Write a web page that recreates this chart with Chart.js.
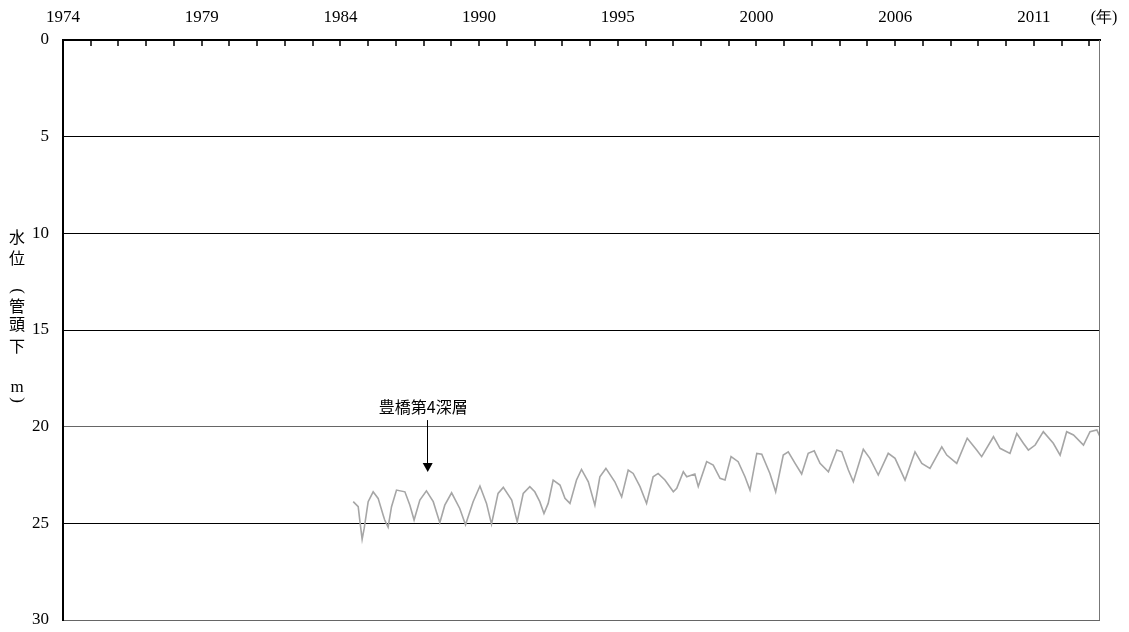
<!DOCTYPE html>
<html>
<head>
<meta charset="utf-8">
<script src="https://cdn.jsdelivr.net/npm/chart.js@4"></script>
<style>
  html, body { margin: 0; padding: 0; background: #fff; }
  #wrap { width: 1129px; height: 632px; }
</style>
</head>
<body>
<div id="wrap"><canvas id="chart" width="1129" height="632"></canvas></div>
<script>
// decimal years
const years = [
  1985.06, 1985.25, 1985.31, 1985.40, 1985.48, 1985.63, 1985.82, 1986.01, 1986.20, 1986.26,
  1986.39, 1986.52, 1986.71, 1987.03, 1987.22, 1987.38, 1987.60, 1987.85, 1988.11, 1988.36,
  1988.55, 1988.81, 1989.12, 1989.34, 1989.63, 1989.89, 1990.14, 1990.33, 1990.58, 1990.78,
  1991.10, 1991.31, 1991.54, 1991.79, 1991.98, 1992.17, 1992.33, 1992.49, 1992.68, 1992.94,
  1993.13, 1993.32, 1993.57, 1993.76, 1994.02, 1994.27, 1994.46, 1994.69, 1995.03, 1995.29,
  1995.54, 1995.73, 1995.99, 1996.24, 1996.49, 1996.68, 1996.94, 1997.26, 1997.39, 1997.64,
  1997.77, 1998.08, 1998.21, 1998.53, 1998.78, 1999.04, 1999.23, 1999.46, 1999.73, 1999.99,
  2000.18, 2000.44, 2000.63, 2000.94, 2001.16, 2001.45, 2001.64, 2001.90, 2002.15, 2002.40,
  2002.63, 2002.85, 2003.17, 2003.49, 2003.68, 2003.93, 2004.12, 2004.50, 2004.75, 2005.07,
  2005.45, 2005.71, 2006.09, 2006.47, 2006.73, 2007.04, 2007.49, 2007.68, 2008.06, 2008.46,
  2008.82, 2009.01, 2009.46, 2009.71, 2010.09, 2010.35, 2010.60, 2010.79, 2011.05, 2011.36,
  2011.74, 2012.00, 2012.25, 2012.51, 2012.89, 2013.14, 2013.40, 2013.52
];
// water level below pipe head (m)
const levels = [
  23.88, 24.14, 24.83, 25.83, 25.25, 23.88, 23.37, 23.71, 24.57, 24.83,
  25.20, 24.14, 23.28, 23.37, 24.06, 24.83, 23.80, 23.32, 23.88, 24.97,
  24.06, 23.42, 24.23, 25.07, 23.88, 23.07, 23.97, 25.04, 23.45, 23.14,
  23.80, 24.92, 23.45, 23.10, 23.37, 23.88, 24.49, 23.97, 22.76, 23.02,
  23.71, 23.97, 22.76, 22.21, 22.85, 24.06, 22.59, 22.16, 22.85, 23.63,
  22.24, 22.42, 23.10, 23.97, 22.59, 22.42, 22.76, 23.37, 23.19, 22.33,
  22.59, 22.45, 23.10, 21.81, 21.99, 22.67, 22.76, 21.55, 21.81, 22.59,
  23.28, 21.38, 21.42, 22.42, 23.37, 21.47, 21.30, 21.90, 22.45, 21.38,
  21.25, 21.90, 22.33, 21.21, 21.30, 22.24, 22.85, 21.17, 21.64, 22.50,
  21.38, 21.64, 22.76, 21.30, 21.90, 22.16, 21.04, 21.47, 21.90, 20.60,
  21.21, 21.55, 20.52, 21.12, 21.38, 20.35, 20.86, 21.21, 20.95, 20.26,
  20.86, 21.47, 20.26, 20.43, 20.95, 20.26, 20.17, 20.52
];
const tickLabels = ['1974', '1979', '1984', '1990', '1995', '2000', '2006', '2011'];
const xStart = 1974;
const labelStep = 37 / 7;      // years between labelled ticks
const minorPerLabel = 5;       // small tick marks per label step
const xEnd = 2013.52;
const yTicks = [0, 5, 10, 15, 20, 25, 30];
const seriesName = '豊橋第4深層';
const noteYear = 1987.88;
const yTitleChars = ['水', '位', '(', '管', '頭', '下', 'm', ')'];
const yTitleRows = [237, 258, 291, 306, 324, 346, 388, 400];

const numFont = { family: '"Liberation Serif", "DejaVu Serif", serif', size: 17 };
const cjkFont = '"Noto Sans CJK JP", "Noto Sans CJK SC", sans-serif';

const extras = {
  id: 'extras',
  afterDraw(chart) {
    const { ctx, chartArea: area, scales: { x, y } } = chart;
    ctx.save();
    // right frame
    ctx.strokeStyle = '#777';
    ctx.lineWidth = 1;
    ctx.beginPath();
    ctx.moveTo(area.right - 0.5, area.top);
    ctx.lineTo(area.right - 0.5, area.bottom);
    ctx.stroke();
    // small inward tick marks on the top axis
    ctx.strokeStyle = '#000';
    ctx.lineWidth = 1.5;
    const minor = labelStep / minorPerLabel;
    for (let v = xStart + minor; v <= xEnd; v += minor) {
      const px = Math.round(x.getPixelForValue(v));
      ctx.beginPath();
      ctx.moveTo(px, area.top);
      ctx.lineTo(px, area.top + 6);
      ctx.stroke();
    }
    // series note with arrow
    const ax = x.getPixelForValue(noteYear);
    ctx.fillStyle = '#000';
    ctx.font = '16px ' + cjkFont;
    ctx.textAlign = 'center';
    ctx.textBaseline = 'middle';
    ctx.fillText(seriesName, ax - 4, y.getPixelForValue(18.97));
    const top = y.getPixelForValue(19.66);
    const tip = y.getPixelForValue(22.35);
    ctx.lineWidth = 1;
    ctx.beginPath();
    ctx.moveTo(Math.round(ax) + 0.5, top);
    ctx.lineTo(Math.round(ax) + 0.5, tip - 8);
    ctx.stroke();
    ctx.beginPath();
    ctx.moveTo(ax - 4.5, tip - 9);
    ctx.lineTo(ax + 5.5, tip - 9);
    ctx.lineTo(ax + 0.5, tip);
    ctx.closePath();
    ctx.fill();
    // year unit
    ctx.font = '16px ' + numFont.family;
    ctx.fillText('(年)', 1104, 18);
    // vertical axis title, brackets turned for vertical writing
    yTitleChars.forEach((c, i) => {
      ctx.save();
      ctx.translate(17, yTitleRows[i]);
      if (c === '(' || c === ')') {
        ctx.rotate(Math.PI / 2);
        ctx.font = '17px ' + numFont.family;
      } else if (c === 'm') {
        ctx.font = '17px ' + numFont.family;
      } else {
        ctx.font = '16px ' + cjkFont;
      }
      ctx.fillText(c, 0, 0);
      ctx.restore();
    });
    ctx.restore();
  }
};

new Chart(document.getElementById('chart'), {
  type: 'line',
  data: {
    datasets: [{
      label: seriesName,
      data: years.map((t, i) => ({ x: t, y: levels[i] })),
      borderColor: '#a6a6a6',
      borderWidth: 1.6,
      pointRadius: 0,
      tension: 0,
      fill: false
    }]
  },
  options: {
    responsive: false,
    animation: false,
    layout: { padding: { left: 0, right: 29, top: 0, bottom: 12 } },
    plugins: { legend: { display: false }, tooltip: { enabled: false } },
    scales: {
      x: {
        type: 'linear',
        position: 'top',
        min: xStart,
        max: xEnd,
        afterBuildTicks: (scale) => {
          scale.ticks = tickLabels.map((t, i) => ({ value: xStart + i * labelStep }));
        },
        afterFit: (scale) => {
          scale.height = 40;
          scale.paddingLeft = 0;
          scale.paddingRight = 0;
        },
        ticks: {
          autoSkip: false,
          maxRotation: 0,
          padding: 12,
          color: '#000',
          font: numFont,
          callback: (v, i) => tickLabels[i]
        },
        grid: { display: false, drawTicks: false },
        border: { display: true, color: '#000', width: 2 }
      },
      y: {
        reverse: true,
        min: 0,
        max: 30,
        afterBuildTicks: (scale) => {
          scale.ticks = yTicks.map(v => ({ value: v }));
        },
        afterFit: (scale) => {
          scale.width = 63;
          scale.paddingTop = 0;
          scale.paddingBottom = 0;
        },
        ticks: {
          padding: 14,
          color: '#000',
          font: numFont,
          callback: (v) => String(v)
        },
        grid: {
          drawTicks: false,
          lineWidth: 1,
          color: (ctx) => (ctx.tick && (ctx.tick.value === 20 || ctx.tick.value === 30)) ? '#666' : '#000'
        },
        border: { display: true, color: '#000', width: 2 }
      }
    }
  },
  plugins: [extras]
});
</script>
</body>
</html>
